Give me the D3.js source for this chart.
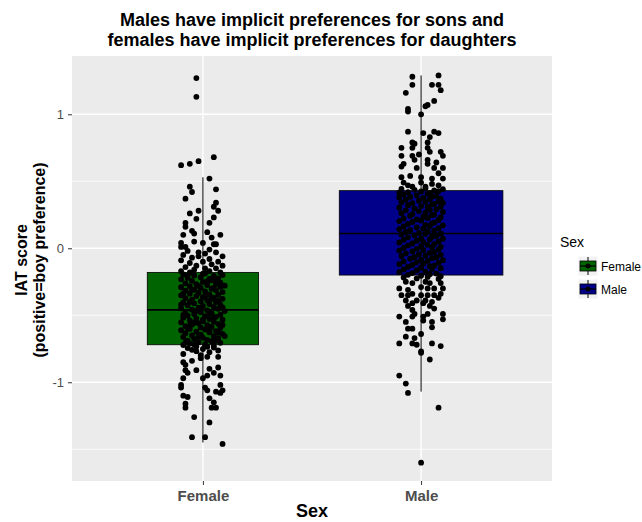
<!DOCTYPE html>
<html>
<head>
<meta charset="utf-8">
<script src="https://cdn.jsdelivr.net/npm/d3@7/dist/d3.min.js"></script>
<style>
  body { margin: 0; background: #fff; }
  svg { display: block; font-family: "Liberation Sans", Arial, sans-serif; }
</style>
</head>
<body>
<svg id="chart" width="642" height="522"></svg>
<script>
// categories and colours of the fill legend
const sexes = ["Female", "Male"];
const fills = ["#006400", "#00008b"];

// boxplot summaries: [lower whisker, Q1, median, Q3, upper whisker]
const boxStats = [
  [-1.45, -0.72, -0.46, -0.18, 0.53],
  [-1.07, -0.20, 0.11, 0.43, 1.29]
];

// y axis ticks
const yMajor = [-1, 0, 1];
const yMinor = [-1.5, -0.5, 0.5];
const yTickLabels = ["-1", "0", "1"];

// jittered points, [x jitter in category units, IAT score]
const femalePoints = [
  [-0.03,1.27],[-0.03,1.13],[-0.10,0.62],[-0.06,0.63],[-0.02,0.65],[0.05,0.68],
  [0.03,0.52],[-0.06,0.46],[-0.05,0.42],[0.06,0.44],[-0.08,0.37],[0.05,0.31],[0.06,0.34],
  [0.07,0.28],[-0.06,0.26],[-0.02,0.28],[0.05,0.23],[-0.08,0.19],[-0.08,0.16],[-0.03,0.22],
  [0.03,0.19],[-0.05,0.13],[-0.04,0.11],[0.02,0.12],[0.08,0.10],[-0.09,0.10],[0.04,0.08],
  [-0.04,0.05],[-0.10,0.04],[0.00,0.04],[0.05,0.03],[0.06,0.03],[-0.10,0.01],[-0.08,0.01],
  [0.03,-0.01],
  [-0.07,-0.02],[-0.02,-0.03],[0.01,-0.04],[0.06,-0.03],[-0.09,-0.05],[0.09,-0.06],[-0.05,-0.07],
  [0.03,-0.08],[-0.10,-0.09],[0.00,-0.10],[0.07,-0.10],[-0.06,-0.11],[0.04,-0.12],[-0.03,-0.13],
  [0.09,-0.13],[-0.08,-0.14],[0.01,-0.15],[0.06,-0.15],[-0.04,-0.16],[-0.10,-0.17],[0.03,-0.17],
  [0.08,-0.18],[-0.06,-0.18],[0.00,-0.19],[-0.02,-0.06],
  [-0.09,-0.195],[-0.04,-0.203],[0.01,-0.188],[0.05,-0.207],[0.09,-0.199],
  [-0.07,-0.221],[-0.01,-0.216],[0.03,-0.229],[0.07,-0.224],[-0.10,-0.232],
  [-0.05,-0.244],[0.00,-0.251],[0.04,-0.239],[0.08,-0.257],[-0.08,-0.262],
  [-0.03,-0.268],[0.02,-0.274],[0.06,-0.266],[0.10,-0.279],[-0.06,-0.285],
  [-0.10,-0.291],[-0.01,-0.296],[0.04,-0.302],[0.08,-0.288],[-0.04,-0.309],
  [-0.08,-0.316],[0.01,-0.321],[0.06,-0.314],[-0.02,-0.333],[0.09,-0.327],
  [-0.06,-0.339],[0.03,-0.345],[-0.10,-0.351],[0.07,-0.348],[-0.03,-0.357],
  [0.00,-0.364],[0.05,-0.369],[-0.08,-0.372],[0.09,-0.377],[-0.05,-0.383],
  [0.02,-0.389],[-0.01,-0.396],[0.06,-0.401],[-0.09,-0.404],[-0.04,-0.411],
  [0.03,-0.416],[0.08,-0.421],[-0.07,-0.426],[0.00,-0.431],[0.05,-0.437],
  [-0.02,-0.443],[-0.10,-0.448],[0.07,-0.452],[-0.05,-0.458],[0.02,-0.463],
  [0.10,-0.469],[-0.08,-0.474],[-0.01,-0.478],[0.04,-0.484],[-0.04,-0.491],
  [0.08,-0.496],[-0.07,-0.502],[0.01,-0.507],[0.06,-0.512],[-0.09,-0.518],
  [-0.03,-0.523],[0.03,-0.528],[0.09,-0.533],[-0.06,-0.539],[0.00,-0.544],
  [0.05,-0.549],[-0.10,-0.553],[-0.02,-0.559],[0.07,-0.564],[-0.05,-0.569],
  [0.02,-0.574],[-0.08,-0.581],[0.04,-0.586],[-0.01,-0.591],[0.08,-0.596],
  [-0.06,-0.602],[0.01,-0.607],[-0.10,-0.612],[0.06,-0.618],[-0.03,-0.623],
  [0.03,-0.628],[-0.08,-0.634],[0.09,-0.639],[-0.01,-0.644],[-0.05,-0.651],
  [0.05,-0.656],[-0.09,-0.662],[0.00,-0.667],[0.07,-0.672],[-0.04,-0.678],
  [0.02,-0.684],[-0.07,-0.689],[0.04,-0.694],[-0.02,-0.701],[0.08,-0.706],
  [-0.06,-0.712],[0.01,-0.717],[-0.09,-0.722],[0.05,-0.727],[-0.03,-0.733],
  [-0.07,-0.205],[0.06,-0.235],[-0.02,-0.282],[0.05,-0.295],[-0.09,-0.338],[0.01,-0.356],
  [0.07,-0.392],[-0.06,-0.401],[0.09,-0.441],[-0.03,-0.468],[0.03,-0.489],[-0.09,-0.497],
  [0.05,-0.521],[-0.04,-0.556],[0.09,-0.572],[-0.07,-0.597],[0.03,-0.612],[-0.02,-0.661],
  [0.06,-0.691],[-0.08,-0.704],[0.02,-0.248],[-0.05,-0.311],[0.04,-0.378],[-0.01,-0.451],
  [0.00,-0.532],[-0.06,-0.578],[0.07,-0.631],[-0.04,-0.719],[0.10,-0.655],[-0.10,-0.421],
  [-0.07,-0.745],[0.00,-0.752],[0.05,-0.741],[-0.03,-0.768],[0.03,-0.776],[0.07,-0.763],
  [-0.09,-0.789],[-0.01,-0.797],[0.02,-0.735],[-0.05,-0.758],
  [-0.09,-0.85],[-0.08,-0.87],[-0.05,-0.84],[-0.01,-0.82],[0.02,-0.81],[0.07,-0.81],
  [-0.07,-0.93],[-0.08,-0.91],[-0.03,-0.91],[0.03,-0.90],[0.07,-0.89],[0.08,-0.95],
  [0.02,-0.95],[0.05,-0.93],[0.00,-0.97],[-0.09,-0.97],[-0.10,-1.02],[-0.10,-1.04],
  [0.01,-1.04],[0.02,-1.06],[0.08,-1.02],[0.09,-1.06],[0.06,-1.07],[-0.09,-1.10],
  [-0.07,-1.11],[0.08,-1.08],[0.03,-1.12],[0.05,-1.15],[-0.08,-1.16],[-0.08,-1.19],
  [0.04,-1.19],[0.06,-1.19],[-0.04,-1.26],[0.03,-1.30],[-0.05,-1.41],[0.01,-1.41],
  [0.09,-1.46]
];

const malePoints = [
  [-0.04,1.28],[0.08,1.29],[-0.04,1.22],[0.05,1.22],[0.08,1.22],[0.09,1.18],[-0.07,1.16],
  [0.06,1.10],[0.03,1.07],[0.02,1.06],[-0.06,1.04],[-0.06,1.02],[0.00,1.00],[-0.06,0.87],
  [0.01,0.86],[0.06,0.87],[0.08,0.86],[0.04,0.83],[-0.04,0.79],[-0.03,0.78],[0.03,0.79],
  [-0.09,0.75],[-0.04,0.75],[0.03,0.75],[0.04,0.72],[0.09,0.72],[-0.09,0.69],[-0.04,0.69],
  [-0.01,0.70],[0.10,0.69],[0.03,0.66],[-0.08,0.63],[-0.03,0.66],[0.07,0.64],[-0.09,0.61],
  [0.03,0.63],[-0.02,0.60],[0.06,0.60],[0.10,0.60],[0.08,0.56],[-0.05,0.54],[-0.09,0.53],
  [0.00,0.53],[0.05,0.52],[0.10,0.52],[-0.08,0.49],[-0.06,0.47],[-0.04,0.46],[0.00,0.49],
  [0.02,0.46],[0.05,0.48],[0.08,0.47],
  [-0.09,0.443],[-0.03,0.436],[0.02,0.447],[0.06,0.432],[0.10,0.441],
  [-0.06,0.418],[0.00,0.424],[0.04,0.411],[0.08,0.427],[-0.10,0.415],
  [-0.08,0.402],[-0.02,0.395],[0.03,0.406],[0.07,0.391],
  [-0.05,0.383],[0.01,0.376],[0.05,0.387],[0.09,0.371],[-0.10,0.379],
  [-0.07,0.362],[-0.01,0.355],[0.04,0.366],[0.08,0.351],
  [-0.09,0.343],[-0.04,0.336],[0.02,0.347],[0.06,0.331],[0.10,0.339],
  [-0.06,0.322],[0.00,0.315],[0.05,0.326],[0.09,0.311],
  [-0.10,0.303],[-0.03,0.296],[0.03,0.307],[0.07,0.291],
  [-0.07,0.283],[-0.01,0.276],[0.04,0.287],[0.10,0.271],
  [-0.09,0.262],[-0.04,0.255],[0.02,0.266],[0.06,0.251],
  [-0.05,0.243],[0.01,0.236],[0.05,0.247],[0.09,0.231],
  [-0.08,0.222],[-0.02,0.215],[0.03,0.226],[0.08,0.211],
  [-0.10,0.203],[-0.04,0.196],[0.00,0.207],[0.06,0.191],
  [-0.06,0.182],[0.02,0.175],[0.05,0.186],[0.10,0.171],
  [-0.08,0.163],[-0.02,0.156],[0.04,0.167],[0.08,0.151],
  [-0.10,0.143],[-0.05,0.136],[0.01,0.147],[0.06,0.131],
  [-0.07,0.122],[-0.01,0.115],[0.03,0.126],[0.09,0.111],
  [-0.09,0.103],[-0.03,0.096],[0.02,0.107],[0.07,0.091],
  [-0.06,0.082],[0.00,0.075],[0.05,0.086],[0.10,0.071],
  [-0.08,0.063],[-0.02,0.056],[0.04,0.067],[0.08,0.051],
  [-0.10,0.043],[-0.04,0.036],[0.01,0.047],[0.06,0.031],
  [-0.06,0.022],[0.00,0.015],[0.03,0.026],[0.09,0.011],
  [-0.08,0.003],[-0.02,-0.004],[0.05,0.007],[0.08,-0.009],
  [-0.10,-0.017],[-0.04,-0.024],[0.01,-0.013],[0.06,-0.029],
  [-0.07,-0.038],[-0.01,-0.045],[0.04,-0.034],[0.09,-0.049],
  [-0.09,-0.058],[-0.03,-0.065],[0.02,-0.054],[0.07,-0.069],
  [-0.05,-0.078],[0.00,-0.085],[0.05,-0.074],[0.10,-0.089],
  [-0.08,-0.098],[-0.02,-0.105],[0.03,-0.094],[0.08,-0.109],
  [-0.10,-0.118],[-0.04,-0.125],[0.01,-0.114],[0.06,-0.129],
  [-0.06,-0.138],[0.00,-0.145],[0.04,-0.134],[0.09,-0.149],
  [-0.08,-0.158],[-0.02,-0.165],[0.05,-0.154],
  [-0.10,-0.178],[-0.04,-0.185],[0.02,-0.174],[0.07,-0.189],
  [-0.06,-0.198],[0.00,-0.205],[0.04,-0.194],[0.09,-0.209],
  [-0.08,-0.218],[-0.02,-0.225],[0.03,-0.214],[0.08,-0.229],
  [-0.07,-0.25],[-0.04,-0.26],[0.02,-0.25],[0.04,-0.26],[0.09,-0.26],[-0.10,-0.30],
  [-0.06,-0.31],[0.00,-0.29],[0.03,-0.30],[0.06,-0.30],[0.10,-0.30],[-0.09,-0.35],
  [-0.06,-0.35],[-0.04,-0.34],[0.00,-0.35],[0.03,-0.35],[0.06,-0.35],[0.09,-0.34],
  [-0.07,-0.39],[-0.02,-0.39],[0.02,-0.39],[0.05,-0.40],[0.08,-0.37],[-0.06,-0.43],
  [-0.04,-0.41],[0.01,-0.41],[0.04,-0.43],[0.06,-0.45],[-0.04,-0.46],[-0.03,-0.49],
  [0.10,-0.49],[0.03,-0.49],[-0.10,-0.51],[-0.04,-0.51],[0.01,-0.51],[0.01,-0.54],
  [0.10,-0.53],[-0.07,-0.55],[0.05,-0.55],[0.05,-0.59],[-0.06,-0.60],[-0.04,-0.60],
  [0.00,-0.64],[-0.07,-0.66],[-0.03,-0.67],[-0.04,-0.71],[-0.10,-0.71],[-0.02,-0.72],
  [0.05,-0.71],[0.09,-0.73],[0.00,-0.77],[0.00,-0.78],[0.04,-0.83],[-0.10,-0.95],
  [-0.07,-1.01],[-0.06,-1.08],[0.08,-1.19],[0.00,-1.60]
];

const pointSets = [femalePoints, malePoints];

const svg = d3.select("#chart");
const panel = {left: 72, right: 552, top: 56, bottom: 481};

const x = d3.scalePoint().domain(sexes).range([panel.left, panel.right]).padding(0.6);
const y = d3.scaleLinear().domain([-1.737, 1.435]).range([panel.bottom, panel.top]);
const step = x.step();
// box widths (varwidth style, in category units)
const boxWidth = [0.51, 0.75];

svg.append("rect").attr("width", 642).attr("height", 522).attr("fill", "#fff");

// panel background
svg.append("rect")
  .attr("x", panel.left).attr("y", panel.top)
  .attr("width", panel.right - panel.left).attr("height", panel.bottom - panel.top)
  .attr("fill", "#ebebeb");

// grid
svg.append("g").selectAll("line").data(yMinor).enter().append("line")
  .attr("x1", panel.left).attr("x2", panel.right)
  .attr("y1", d => y(d)).attr("y2", d => y(d))
  .attr("stroke", "#fff").attr("stroke-width", 0.8);
svg.append("g").selectAll("line").data(yMajor).enter().append("line")
  .attr("x1", panel.left).attr("x2", panel.right)
  .attr("y1", d => y(d)).attr("y2", d => y(d))
  .attr("stroke", "#fff").attr("stroke-width", 1.4);
svg.append("g").selectAll("line").data(sexes).enter().append("line")
  .attr("x1", d => x(d)).attr("x2", d => x(d))
  .attr("y1", panel.top).attr("y2", panel.bottom)
  .attr("stroke", "#fff").attr("stroke-width", 1.4);

// boxplots
const boxes = svg.append("g").selectAll("g").data(sexes).enter().append("g");
boxes.append("line")
  .attr("x1", d => x(d)).attr("x2", d => x(d))
  .attr("y1", (d, i) => y(boxStats[i][4])).attr("y2", (d, i) => y(boxStats[i][3]))
  .attr("stroke", "#000");
boxes.append("line")
  .attr("x1", d => x(d)).attr("x2", d => x(d))
  .attr("y1", (d, i) => y(boxStats[i][1])).attr("y2", (d, i) => y(boxStats[i][0]))
  .attr("stroke", "#000");
boxes.append("rect")
  .attr("x", (d, i) => x(d) - boxWidth[i] * step / 2)
  .attr("width", (d, i) => boxWidth[i] * step)
  .attr("y", (d, i) => y(boxStats[i][3]))
  .attr("height", (d, i) => y(boxStats[i][1]) - y(boxStats[i][3]))
  .attr("fill", (d, i) => fills[i])
  .attr("stroke", "#000").attr("stroke-width", 0.8);
boxes.append("line")
  .attr("x1", (d, i) => x(d) - boxWidth[i] * step / 2)
  .attr("x2", (d, i) => x(d) + boxWidth[i] * step / 2)
  .attr("y1", (d, i) => y(boxStats[i][2])).attr("y2", (d, i) => y(boxStats[i][2]))
  .attr("stroke", "#000").attr("stroke-width", 1.6);

// jittered points
sexes.forEach((s, i) => {
  svg.append("g").selectAll("circle").data(pointSets[i]).enter().append("circle")
    .attr("cx", d => x(s) + d[0] * step)
    .attr("cy", d => y(d[1]))
    .attr("r", 2.9)
    .attr("fill", "#000");
});

// y axis
const yAxis = svg.append("g")
  .attr("transform", "translate(" + panel.left + ",0)")
  .call(d3.axisLeft(y).tickValues(yMajor).tickSize(4).tickPadding(4)
    .tickFormat((d, i) => yTickLabels[i]));
yAxis.select(".domain").remove();
yAxis.selectAll("line").attr("stroke", "#333");
yAxis.selectAll("text").attr("fill", "#4d4d4d").attr("font-size", 13)
  .attr("font-family", "Liberation Sans, Arial, sans-serif");

// x axis
const xAxis = svg.append("g")
  .attr("transform", "translate(0," + panel.bottom + ")")
  .call(d3.axisBottom(x).tickSize(4).tickPadding(5));
xAxis.select(".domain").remove();
xAxis.selectAll("line").attr("stroke", "#333");
xAxis.selectAll("text").attr("fill", "#4d4d4d").attr("font-size", 15)
  .attr("font-weight", "bold")
  .attr("font-family", "Liberation Sans, Arial, sans-serif");

// titles
const title = svg.append("text").attr("text-anchor", "middle")
  .attr("font-size", 18).attr("font-weight", "bold").attr("fill", "#000");
title.append("tspan").attr("x", (panel.left + panel.right) / 2).attr("y", 26)
  .text("Males have implicit preferences for sons and");
title.append("tspan").attr("x", (panel.left + panel.right) / 2).attr("y", 46)
  .text("females have implicit preferences for daughters");

svg.append("text").attr("x", (panel.left + panel.right) / 2).attr("y", 517)
  .attr("text-anchor", "middle").attr("font-size", 18).attr("font-weight", "bold")
  .text("Sex");

const yTitle = svg.append("text")
  .attr("transform", "translate(0,260) rotate(-90)")
  .attr("text-anchor", "middle").attr("font-size", 16).attr("font-weight", "bold");
yTitle.append("tspan").attr("x", 0).attr("y", 27).text("IAT score");
yTitle.append("tspan").attr("x", 0).attr("y", 45).text("(positive=boy preference)");

// legend
const legend = svg.append("g").attr("transform", "translate(560,0)");
legend.append("text").attr("x", 0).attr("y", 247).attr("font-size", 14).attr("fill", "#000")
  .text("Sex");
const keys = legend.selectAll(".key").data(sexes).enter().append("g")
  .attr("class", "key")
  .attr("transform", (d, i) => "translate(18," + (256 + i * 23) + ")");
keys.append("rect").attr("width", 20).attr("height", 20).attr("fill", "#f2f2f2")
  .attr("stroke", "#fff");
keys.append("line").attr("x1", 10).attr("x2", 10).attr("y1", 1).attr("y2", 19)
  .attr("stroke", "#000");
keys.append("rect").attr("x", 2).attr("y", 5).attr("width", 16).attr("height", 10)
  .attr("fill", (d, i) => fills[i]).attr("stroke", "#000").attr("stroke-width", 0.8);
keys.append("line").attr("x1", 2).attr("x2", 18).attr("y1", 10).attr("y2", 10)
  .attr("stroke", "#000").attr("stroke-width", 1.2);
keys.append("circle").attr("cx", 10).attr("cy", 10).attr("r", 2.5).attr("fill", "#000");
keys.append("text").attr("x", 23).attr("y", 14.5).attr("font-size", 12).attr("fill", "#000")
  .text(d => d);
</script>
</body>
</html>
